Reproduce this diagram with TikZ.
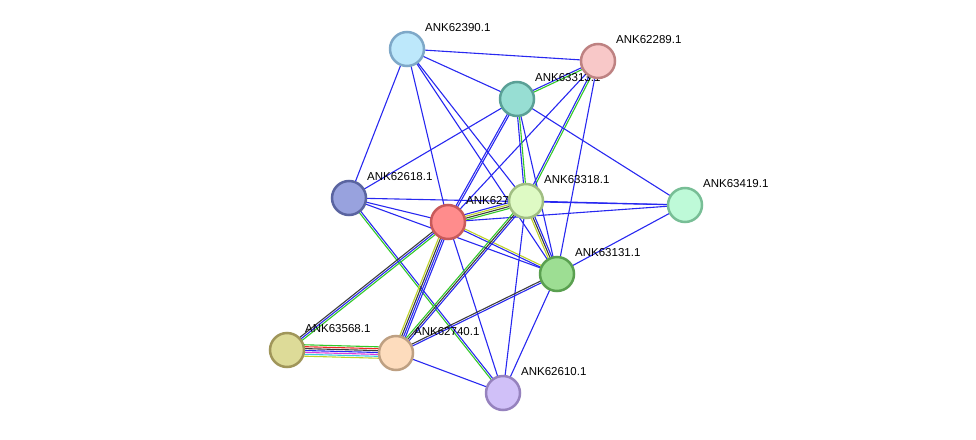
\documentclass[tikz,border=0pt]{standalone}
\usepackage{fontspec}
\setmainfont{Liberation Sans}
\usetikzlibrary{calc}

\definecolor{cBlue}{RGB}{40,40,240}
\definecolor{cGreen}{RGB}{50,200,40}
\definecolor{cYel}{RGB}{190,210,40}
\definecolor{cBlk}{RGB}{60,60,60}
\definecolor{cRed}{RGB}{240,40,40}
\definecolor{cMag}{RGB}{220,60,220}
\definecolor{cCyan}{RGB}{60,200,230}

% draws parallel lines a--b, one for each colour, centred on the line
\newcommand{\link}[4]{%
  \foreach \c [count=\i] in {#4}{%
    \pgfmathsetmacro{\off}{(\i-(#3+1)/2)*1.9}
    \draw[\c,line width=1.1] ($(#1)!\off pt!90:(#2)$)--($(#2)!\off pt!-90:(#1)$);
  }}

\begin{document}
\begin{tikzpicture}[x=1pt,y=-1pt,
  prot/.style={circle,draw,line width=2.5,minimum size=34,inner sep=0},
  lbl/.style={anchor=base west,inner sep=1,font=\fontsize{11.5}{13}\selectfont}]
\useasboundingbox (0,0) rectangle (976,439);
% positions
\coordinate (n390) at (407,49);
\coordinate (n289) at (598,61);
\coordinate (n313) at (517,99);
\coordinate (n618) at (349,198);
\coordinate (n742) at (448,222);
\coordinate (n318) at (526,201);
\coordinate (n419) at (685,205);
\coordinate (n131) at (557,274);
\coordinate (n568) at (287,350);
\coordinate (n740) at (396,353);
\coordinate (n610) at (503,393);
% connectors
\link{n390}{n289}{1}{cBlue}
\link{n390}{n313}{1}{cBlue}
\link{n390}{n618}{1}{cBlue}
\link{n390}{n742}{1}{cBlue}
\link{n390}{n318}{1}{cBlue}
\link{n390}{n131}{1}{cBlue}
\link{n289}{n313}{2}{cBlue,cGreen}
\link{n289}{n318}{2}{cBlue,cGreen}
\link{n289}{n742}{1}{cBlue}
\link{n289}{n131}{1}{cBlue}
\link{n313}{n618}{1}{cBlue}
\link{n313}{n742}{2}{cBlue,cBlue}
\link{n313}{n318}{2}{cBlue,cGreen}
\link{n313}{n131}{1}{cBlue}
\link{n313}{n419}{1}{cBlue}
\link{n618}{n742}{1}{cBlue}
\link{n618}{n419}{1}{cBlue}
\link{n618}{n131}{1}{cBlue}
\link{n618}{n610}{2}{cGreen,cBlue}
\link{n742}{n318}{4}{cGreen,cBlk,cYel,cBlue}
\link{n742}{n131}{2}{cBlue,cYel}
\link{n742}{n419}{1}{cBlue}
\link{n742}{n568}{3}{cBlk,cBlue,cGreen}
\link{n742}{n740}{4}{cYel,cBlk,cBlue,cBlue}
\link{n742}{n610}{1}{cBlue}
\link{n318}{n419}{1}{cBlue}
\link{n318}{n131}{3}{cYel,cBlk,cBlue}
\link{n318}{n740}{3}{cGreen,cBlk,cBlue}
\link{n318}{n610}{1}{cBlue}
\link{n131}{n740}{2}{cBlk,cBlue}
\link{n131}{n610}{1}{cBlue}
\link{n131}{n419}{1}{cBlue}
\link{n568}{n740}{7}{cYel,cCyan,cMag,cBlue,cBlk,cRed,cGreen}
\link{n740}{n610}{1}{cBlue}
% proteins
\foreach \n/\f/\d/\t in {
  390/189 232 251/126 168 200/ANK62390.1,
  313/151 222 211/90 160 150/ANK63313.1,
  289/248 200 200/190 130 130/ANK62289.1,
  618/152 162 222/90 100 160/ANK62618.1,
  742/255 140 140/200 90 90/ANK62742.1,
  318/222 250 196/160 190 130/ANK63318.1,
  419/190 250 216/120 190 150/ANK63419.1,
  131/157 222 147/90 160 80/ANK63131.1,
  568/221 219 152/160 150 90/ANK63568.1,
  740/253 220 189/190 160 130/ANK62740.1,
  610/208 192 248/150 130 190/ANK62610.1}{
  \definecolor{fc}{RGB}{\f}\definecolor{dc}{RGB}{\d}
  \node[prot,fill=fc,draw=dc] (p\n) at (n\n) {};
  \node[lbl] (l\n) at ($(n\n)+(17,-18)$) {\t};
}
\end{tikzpicture}
\end{document}
